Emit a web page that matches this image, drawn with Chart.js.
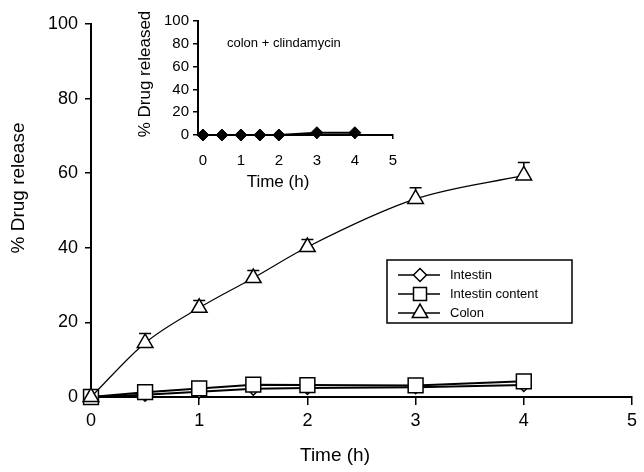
<!DOCTYPE html>
<html>
<head>
<meta charset="utf-8">
<script src="https://cdn.jsdelivr.net/npm/chart.js@4.4.1/dist/chart.umd.min.js"></script>
<style>
    html, body { margin: 0; padding: 0; background: #fff; }
    #wrap { position: relative; width: 644px; height: 472px; }
    #main { position: absolute; left: 0; top: 0; }
    #inset { position: absolute; left: 130px; top: 0; }
</style>
</head>
<body>
<div id="wrap">
    <canvas id="main" width="644" height="472"></canvas>
    <canvas id="inset" width="280" height="200"></canvas>
</div>
<script>
// sampling times (h)
const times = [0, 0.5, 1, 1.5, 2, 3, 4];
// % drug release per medium
const intestin = [0, 0.6, 1.4, 2.2, 2.4, 2.6, 3.2];
const intestinContent = [0, 1.3, 2.3, 3.3, 3.2, 3.1, 4.2];
const colon = [0, 14.5, 23.9, 31.9, 40.2, 53.1, 59.4];
const colonErr = [0, 2.5, 2, 2, 2, 3, 3.5];
// inset: colon + clindamycin
const clindaColon = [0, 0, 0, 0, 0, 2, 2];

const xTicks = [0, 1, 2, 3, 4, 5];
const yTicks = [0, 20, 40, 60, 80, 100];

const seriesNames = ['Intestin', 'Intestin content', 'Colon'];

Chart.defaults.font.family = '"Liberation Sans", Arial, sans-serif';
Chart.defaults.color = '#000';

const toPoints = ys => ys.map((y, i) => ({ x: times[i], y: y }));
const fixTicks = list => s => { s.ticks = list.map(v => ({ value: v })); };

// plain marker drawing for the legend box
function marker(ctx, style, x, y, r) {
    ctx.beginPath();
    if (style === 'rectRot') {
        ctx.moveTo(x, y - r); ctx.lineTo(x + r, y); ctx.lineTo(x, y + r); ctx.lineTo(x - r, y);
    } else if (style === 'rect') {
        ctx.rect(x - r, y - r, 2 * r, 2 * r);
    } else {
        ctx.moveTo(x, y - r);
        ctx.lineTo(x + r * 0.866, y + r / 2);
        ctx.lineTo(x - r * 0.866, y + r / 2);
    }
    ctx.closePath();
    ctx.fill();
    ctx.stroke();
}

// free text (axis titles, notes) at fixed spots
const textPlugin = {
    id: 'texts',
    afterDraw(chart, args, opts) {
        const ctx = chart.ctx;
        (opts.items || []).forEach(t => {
            ctx.save();
            ctx.fillStyle = '#000';
            ctx.font = t.size + 'px "Liberation Sans", Arial, sans-serif';
            ctx.textAlign = t.align || 'center';
            ctx.textBaseline = 'middle';
            ctx.translate(t.x, t.y);
            if (t.rot) ctx.rotate(t.rot);
            ctx.fillText(t.text, 0, 0);
            ctx.restore();
        });
    }
};

// upward error whiskers for Colon
const errPlugin = {
    id: 'errBars',
    beforeDatasetsDraw(chart) {
        const ctx = chart.ctx;
        const xs = chart.scales.x, ys = chart.scales.y;
        ctx.save();
        ctx.strokeStyle = '#000';
        ctx.lineWidth = 1.5;
        colon.forEach((v, i) => {
            if (!colonErr[i]) return;
            const x = xs.getPixelForValue(times[i]);
            const y0 = ys.getPixelForValue(v);
            const y1 = ys.getPixelForValue(v + colonErr[i]);
            ctx.beginPath();
            ctx.moveTo(x, y0); ctx.lineTo(x, y1);
            ctx.moveTo(x - 6, y1); ctx.lineTo(x + 6, y1);
            ctx.stroke();
        });
        ctx.restore();
    }
};

const legendPlugin = {
    id: 'boxLegend',
    afterDraw(chart) {
        const ctx = chart.ctx;
        const styles = ['rectRot', 'rect', 'triangle'];
        const radii = [6.5, 6.5, 9];
        const rows = [275, 294, 313];
        ctx.save();
        ctx.strokeStyle = '#000';
        ctx.lineWidth = 1.5;
        ctx.strokeRect(387, 260, 185, 63);
        seriesNames.forEach((name, i) => {
            ctx.beginPath();
            ctx.moveTo(398, rows[i]); ctx.lineTo(440, rows[i]);
            ctx.stroke();
            ctx.fillStyle = '#fff';
            marker(ctx, styles[i], 420, rows[i], radii[i]);
            ctx.fillStyle = '#000';
            ctx.font = '13px "Liberation Sans", Arial, sans-serif';
            ctx.textAlign = 'left';
            ctx.textBaseline = 'middle';
            ctx.fillText(name, 450, rows[i]);
        });
        ctx.restore();
    }
};

function axisOpts(size, tickLen, pad, list) {
    return {
        type: 'linear',
        afterBuildTicks: fixTicks(list),
        border: { color: '#000', width: 2 },
        grid: { drawOnChartArea: false, color: '#000', lineWidth: 1.5, tickLength: tickLen },
        ticks: { color: '#000', font: { size: size }, padding: pad, maxRotation: 0 }
    };
}

new Chart(document.getElementById('main'), {
    type: 'line',
    data: {
        datasets: [
            {
                label: seriesNames[0], data: toPoints(intestin), order: 2, clip: false,
                borderColor: '#000', borderWidth: 2,
                pointStyle: 'rectRot', pointRadius: 6.5,
                pointBackgroundColor: '#fff', pointBorderColor: '#000', pointBorderWidth: 1.5
            },
            {
                label: seriesNames[1], data: toPoints(intestinContent), order: 1, clip: false,
                borderColor: '#000', borderWidth: 2,
                pointStyle: 'rect', pointRadius: 10.5,
                pointBackgroundColor: '#fff', pointBorderColor: '#000', pointBorderWidth: 1.5
            },
            {
                label: seriesNames[2], data: toPoints(colon), order: 0, clip: false,
                borderColor: '#000', borderWidth: 1.2,
                tension: 0.4, cubicInterpolationMode: 'monotone',
                pointStyle: 'triangle', pointRadius: 9,
                pointBackgroundColor: '#fff', pointBorderColor: '#000', pointBorderWidth: 1.5
            }
        ]
    },
    options: {
        responsive: false,
        animation: false,
        devicePixelRatio: 1,
        layout: { padding: { top: 24, right: 8, left: 0, bottom: 0 } },
        plugins: {
            legend: { display: false },
            tooltip: { enabled: false },
            texts: {
                items: [
                    { text: '% Drug release', x: 19, y: 188, size: 19, rot: -Math.PI / 2 },
                    { text: 'Time (h)', x: 335, y: 456, size: 19 }
                ]
            }
        },
        scales: {
            x: Object.assign(axisOpts(18, 8, 5, xTicks), { min: 0, max: 5, afterFit: s => { s.height = 75; } }),
            y: Object.assign(axisOpts(18, 6, 7, yTicks), { min: 0, max: 100, afterFit: s => { s.width = 91; } })
        }
    },
    plugins: [errPlugin, legendPlugin, textPlugin]
});

new Chart(document.getElementById('inset'), {
    type: 'line',
    data: {
        datasets: [{
            label: 'colon + clindamycin', data: toPoints(clindaColon), clip: false,
            borderColor: '#000', borderWidth: 2,
            pointStyle: 'rectRot', pointRadius: 6,
            pointBackgroundColor: '#000', pointBorderColor: '#000', pointBorderWidth: 1
        }]
    },
    options: {
        responsive: false,
        animation: false,
        devicePixelRatio: 1,
        layout: { padding: { top: 21, right: 13, left: 0, bottom: 0 } },
        plugins: {
            legend: { display: false },
            tooltip: { enabled: false },
            texts: {
                items: [
                    { text: '% Drug released', x: 15, y: 74, size: 17, rot: -Math.PI / 2 },
                    { text: 'Time (h)', x: 148, y: 182, size: 17 },
                    { text: 'colon + clindamycin', x: 97, y: 43, size: 13, align: 'left' }
                ]
            }
        },
        scales: {
            x: Object.assign(axisOpts(15, 4, 13, xTicks), { min: -0.13, max: 5, afterFit: s => { s.height = 65; } }),
            y: Object.assign(axisOpts(15, 5, 4, yTicks), { min: 0, max: 100, afterFit: s => { s.width = 68; } })
        }
    },
    plugins: [textPlugin]
});
</script>
</body>
</html>
